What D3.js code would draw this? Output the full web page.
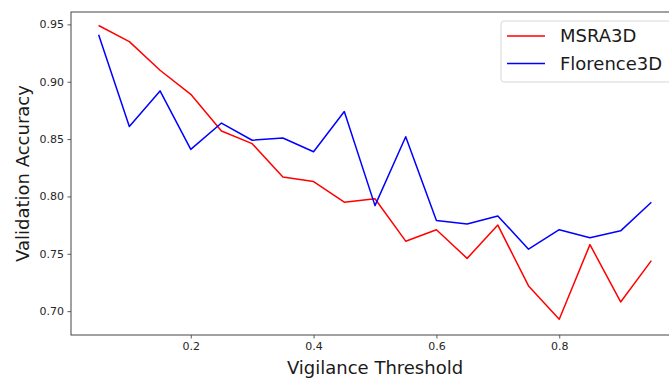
<!DOCTYPE html>
<html>
  <head>
    <meta charset="utf-8">
    <script src="https://d3js.org/d3.v7.min.js"></script>
    <style>
      body { margin: 0; background: #fff; }
      text { font-family: "DejaVu Sans", sans-serif; }
    </style>
  </head>
  <body>
    <div id="chart"></div>
    <script>
      // vigilance thresholds and accuracies
      var thresholds = [0.05, 0.10, 0.15, 0.20, 0.25, 0.30, 0.35, 0.40, 0.45, 0.50,
                        0.55, 0.60, 0.65, 0.70, 0.75, 0.80, 0.85, 0.90, 0.95];
      var msra3d = [0.949, 0.935, 0.910, 0.889, 0.857, 0.846, 0.817, 0.813, 0.795, 0.798,
                    0.761, 0.771, 0.746, 0.775, 0.722, 0.693, 0.758, 0.708, 0.744];
      var florence3d = [0.941, 0.861, 0.892, 0.841, 0.864, 0.849, 0.851, 0.839, 0.874, 0.792,
                        0.852, 0.779, 0.776, 0.783, 0.754, 0.771, 0.764, 0.770, 0.795];
      var seriesNames = ["MSRA3D", "Florence3D"];
      var seriesColors = ["#ff0000", "#0000ff"];
      var xTicks = [0.2, 0.4, 0.6, 0.8];
      var yTicks = [0.70, 0.75, 0.80, 0.85, 0.90, 0.95];

      var width = 669, height = 378;
      // plot box (right edge runs past the window, as in the original)
      var plotL = 71, plotT = 12, plotR = 679, plotB = 335;

      var svg = d3.select("#chart").append("svg")
                  .attr("width", width)
                  .attr("height", height)

      var x = d3.scaleLinear().domain([0.005, 0.995]).range([plotL, plotR]);
      var y = d3.scaleLinear().domain([0.6792, 0.9608]).range([plotB, plotT]);

      var xAxis = d3.axisBottom(x).tickValues(xTicks).tickSize(3.5).tickPadding(3.5)
                    .tickFormat(d3.format(".1f"));
      var yAxis = d3.axisLeft(y).tickValues(yTicks).tickSize(3.5).tickPadding(3.5)
                    .tickFormat(d3.format(".2f"));

      var gx = svg.append("g")
        .attr("transform", "translate(0," + plotB + ")")
        .call(xAxis);
      var gy = svg.append("g")
        .attr("transform", "translate(" + plotL + ",0)")
        .call(yAxis);

      [gx, gy].forEach(function(g){
        g.select(".domain").remove();
        g.selectAll("line").attr("stroke", "#333").attr("stroke-width", 0.8);
        g.selectAll("text").attr("fill", "#262626").style("font-size", "11px");
      });

      // spines
      svg.append("rect")
        .attr("x", plotL).attr("y", plotT)
        .attr("width", plotR - plotL).attr("height", plotB - plotT)
        .attr("fill", "none")
        .attr("stroke", "#444")
        .attr("stroke-width", 1)

      var line = d3.line()
        .x(function(d, i){ return x(thresholds[i]); })
        .y(function(d){ return y(d); });

      [msra3d, florence3d].forEach(function(s, k){
        svg.append("path")
          .datum(s)
          .attr("d", line)
          .attr("fill", "none")
          .attr("stroke", seriesColors[k])
          .attr("stroke-width", 1.5)
          .attr("stroke-linejoin", "round")
      });

      // axis labels
      svg.append("text")
        .attr("x", (plotL + plotR) / 2)
        .attr("y", 374)
        .attr("text-anchor", "middle")
        .style("font-size", "18px")
        .attr("fill", "#1a1a1a")
        .text("Vigilance Threshold")

      svg.append("text")
        .attr("transform", "translate(29," + ((plotT + plotB) / 2) + ") rotate(-90)")
        .attr("text-anchor", "middle")
        .style("font-size", "18px")
        .attr("fill", "#1a1a1a")
        .text("Validation Accuracy")

      // legend
      var legend = svg.append("g");
      legend.append("rect")
        .attr("x", 501).attr("y", 21)
        .attr("width", 180).attr("height", 61)
        .attr("rx", 3)
        .attr("fill", "#fff")
        .attr("fill-opacity", 0.8)
        .attr("stroke", "#d8d8d8")
      seriesNames.forEach(function(name, k){
        var ly = 36 + k * 27.5;
        legend.append("line")
          .attr("x1", 507).attr("x2", 545)
          .attr("y1", ly).attr("y2", ly)
          .attr("stroke", seriesColors[k])
          .attr("stroke-width", 1.5)
        legend.append("text")
          .attr("x", 560).attr("y", ly)
          .attr("dy", "0.36em")
          .style("font-size", "18px")
          .attr("fill", "#1a1a1a")
          .text(name)
      });
    </script>
  </body>
</html>
